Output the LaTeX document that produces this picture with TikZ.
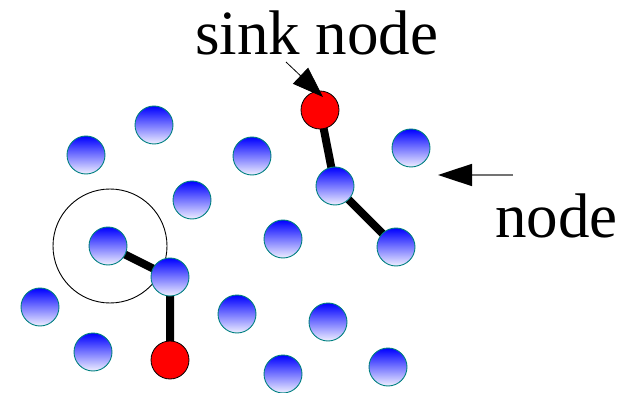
\documentclass[tikz,border=0pt]{standalone}
\usepackage{fontspec}
\setmainfont{Liberation Serif}
\usetikzlibrary{arrows.meta, backgrounds}
\definecolor{nodeblue}{RGB}{0, 0, 255}
\definecolor{rimteal}{RGB}{0, 128, 128}

\begin{document}
\begin{tikzpicture}[x=1pt, y=-1pt,
  dot/.style={circle, draw=rimteal, line width=0.9pt, minimum size=38pt, inner sep=0pt,
              top color=nodeblue, bottom color=nodeblue!6},
  sink/.style={circle, draw=black, line width=0.8pt, minimum size=38pt, inner sep=0pt, fill=red},
  link/.style={line width=8pt},
  lbl/.style={font=\fontsize{63}{70}\selectfont, inner sep=0pt},
  ptr/.style={-{Triangle[length=31pt, width=22pt, black]}, line width=0.8pt}
]
  \useasboundingbox (0,0) rectangle (635,393);

  % sensor field
  \node[dot] (n1) at (154,125) {};
  \node[dot] (n2) at (86,155) {};
  \node[dot] (n3) at (252,156) {};
  \node[dot] (n4) at (411,148) {};
  \node[dot] (n5) at (192,200) {};
  \node[dot] (n6) at (335,186) {};
  \node[dot] (n7) at (283,239) {};
  \node[dot] (n8) at (108,246) {};
  \node[dot] (n9) at (170,277) {};
  \node[dot] (n10) at (396,247) {};
  \node[dot] (n11) at (40,307) {};
  \node[dot] (n12) at (237,314) {};
  \node[dot] (n13) at (328,322) {};
  \node[dot] (n14) at (93,352) {};
  \node[dot] (n15) at (283,374) {};
  \node[dot] (n16) at (388,367) {};
  \node[sink] (s1) at (320,110) {};
  \node[sink] (s2) at (170,360) {};

  % routes and range
  \begin{scope}[on background layer]
    \draw[line width=0.9pt] (110,246) circle[radius=57];
    \draw[link] (s1.center) -- (n6.center) -- (n10.center);
    \draw[link] (n8.center) -- (n9.center) -- (s2.center);
  \end{scope}

  % labels
  \node[lbl, anchor=base west] (sinktxt) at (195,55) {sink node};
  \node[lbl, anchor=base west] (nodetxt) at (495,237) {node};
  \coordinate (sinkfrom) at (286,62);
  \coordinate (sinkto) at (323,97);
  \coordinate (nodefrom) at (513,175);
  \coordinate (nodeto) at (438,175);

  \draw[ptr] (sinkfrom) -- (sinkto);
  \draw[ptr, -{Triangle[length=34pt, width=22pt, black]}, draw=black!55, line width=1.6pt] (nodefrom) -- (nodeto);
\end{tikzpicture}
\end{document}
